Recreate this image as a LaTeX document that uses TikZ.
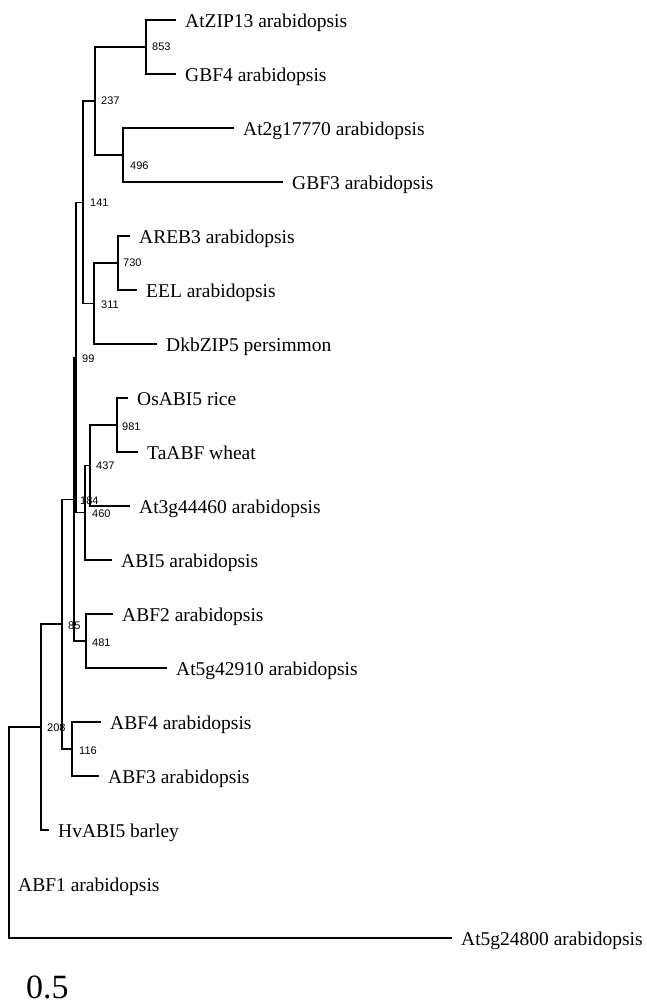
\documentclass[tikz,border=0pt]{standalone}
\usepackage{fontspec}
\setmainfont{Liberation Serif}
\newfontfamily\sansfam{Liberation Sans}
\usepackage{tikz}
\usetikzlibrary{positioning}
\newcommand\leaffont{\rmfamily\fontsize{19.5}{22}\selectfont}
\newcommand\bootfont{\sansfam\fontsize{11}{13}\selectfont}
\tikzset{
    branch/.style={draw=black, line width=1.3pt},
    leaf/.style={anchor=west, inner xsep=9pt, inner ysep=0pt, text height=15.5pt, text depth=0pt, font=\leaffont},
    boot/.style={inner sep=0pt, font=\bootfont}}

\begin{document}
\begin{tikzpicture}[x=1pt, y=-1pt]
    \useasboundingbox (0,0) rectangle (647,1004);
    % internal nodes
    \coordinate (n853) at (146, 47);
    \coordinate (n496) at (123, 155);
    \coordinate (n237) at (95, 101);
    \coordinate (n730) at (118, 263);
    \coordinate (n311) at (94, 303.5);
    \coordinate (n141) at (83, 202.25);
    \coordinate (n981) at (117, 425);
    \coordinate (n437) at (90, 465.5);
    \coordinate (n460) at (85, 512.75);
    \coordinate (n99) at (76, 357.5);
    \coordinate (n481) at (86, 641);
    \coordinate (n184) at (74, 499.25);
    \coordinate (n116) at (72, 749);
    \coordinate (n85) at (62, 624.1);
    \coordinate (n208) at (41, 727);
    \coordinate (root) at (9, 832);
    % leaves
    \node[leaf] (atzip13) at (176, 20) {AtZIP13 arabidopsis};
    \node[leaf] (gbf4) at (176, 74) {GBF4 arabidopsis};
    \node[leaf] (at2g17770) at (234, 128) {At2g17770 arabidopsis};
    \node[leaf] (gbf3) at (283, 182) {GBF3 arabidopsis};
    \node[leaf] (areb3) at (130, 236) {AREB3 arabidopsis};
    \node[leaf] (eel) at (137, 290) {EEL arabidopsis};
    \node[leaf] (dkbzip5) at (157, 344) {DkbZIP5 persimmon};
    \node[leaf] (osabi5) at (128, 398) {OsABI5 rice};
    \node[leaf] (taabf) at (138, 452) {TaABF wheat};
    \node[leaf] (at3g44460) at (130, 506) {At3g44460 arabidopsis};
    \node[leaf] (abi5) at (112, 560) {ABI5 arabidopsis};
    \node[leaf] (abf2) at (113, 614) {ABF2 arabidopsis};
    \node[leaf] (at5g42910) at (167, 668) {At5g42910 arabidopsis};
    \node[leaf] (abf4) at (101, 722) {ABF4 arabidopsis};
    \node[leaf] (abf3) at (99, 776) {ABF3 arabidopsis};
    \node[leaf] (hvabi5) at (49, 830) {HvABI5 barley};
    \node[leaf] (abf1) at (9, 884) {ABF1 arabidopsis};
    \node[leaf] (at5g24800) at (452, 938) {At5g24800 arabidopsis};
    % branches
    \draw[branch] (atzip13.west) -| (n853) |- (gbf4.west);
    \draw[branch] (at2g17770.west) -| (n496) |- (gbf3.west);
    \draw[branch] (n853) -| (n237) |- (n496);
    \draw[branch] (areb3.west) -| (n730) |- (eel.west);
    \draw[branch] (n730) -| (n311) |- (dkbzip5.west);
    \draw[branch] (n237) -| (n141) |- (n311);
    \draw[branch] (osabi5.west) -| (n981) |- (taabf.west);
    \draw[branch] (n981) -| (n437) |- (at3g44460.west);
    \draw[branch] (n437) -| (n460) |- (abi5.west);
    \draw[branch] (n141) -| (n99) |- (n460);
    \draw[branch] (abf2.west) -| (n481) |- (at5g42910.west);
    \draw[branch] (n99) -| (n184) |- (n481);
    \draw[branch] (abf4.west) -| (n116) |- (abf3.west);
    \draw[branch] (n184) -| (n85) |- (n116);
    \draw[branch] (n85) -| (n208) |- (hvabi5.west);
    \draw[branch] (n208) -| (root) |- (at5g24800.west);
    % bootstrap values
    \node[boot, right=6pt of n853] (b853) {853};
    \node[boot, right=7pt of n496, yshift=-11pt] (b496) {496};
    \node[boot, right=6pt of n237] (b237) {237};
    \node[boot, right=5pt of n730] (b730) {730};
    \node[boot, right=7pt of n311, yshift=-1pt] (b311) {311};
    \node[boot, right=7pt of n141] (b141) {141};
    \node[boot, right=5pt of n981, yshift=-2pt] (b981) {981};
    \node[boot, right=6pt of n437] (b437) {437};
    \node[boot, right=7pt of n460, yshift=-1pt] (b460) {460};
    \node[boot, right=6pt of n99, yshift=-1pt] (b99) {99};
    \node[boot, right=6pt of n481, yshift=-2pt] (b481) {481};
    \node[boot, right=6pt of n184, yshift=-1pt] (b184) {184};
    \node[boot, right=7pt of n116, yshift=-2pt] (b116) {116};
    \node[boot, right=6pt of n85, yshift=-2pt] (b85) {85};
    \node[boot, right=6pt of n208, yshift=-1pt] (b208) {208};
    % scale
    \node[anchor=west, inner sep=0pt, font=\rmfamily\fontsize{34}{38}\selectfont] (sbar) at (26, 987) {0.5};
\end{tikzpicture}
\end{document}
